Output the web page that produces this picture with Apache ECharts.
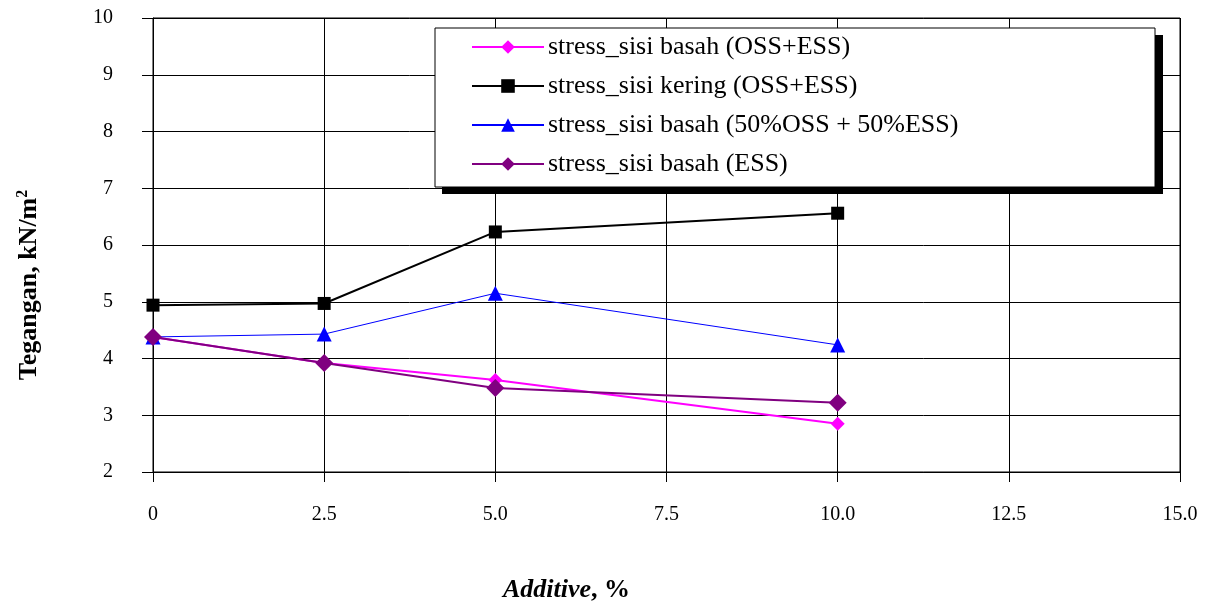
<!DOCTYPE html>
<html><head><meta charset="utf-8">
<script src="https://cdn.jsdelivr.net/npm/echarts@6/dist/echarts.min.js"></script>
<style>html,body{margin:0;padding:0;background:#fff;overflow:hidden}#c{width:1210px;height:605px}</style>
</head><body><div id="c"></div>
<script>
const xValues = [0, 2.5, 5, 10];
const basahOssEss = [4.38, 3.92, 3.62, 2.85];
const keringOssEss = [4.94, 4.97, 6.23, 6.56];
const basah5050 = [4.38, 4.43, 5.15, 4.24];
const basahEss = [4.38, 3.92, 3.48, 3.22];
const seriesNames = ['stress_sisi basah (OSS+ESS)', 'stress_sisi kering (OSS+ESS)', 'stress_sisi basah (50%OSS + 50%ESS)', 'stress_sisi basah (ESS)'];
const xTickLabels = {0:'0', 2.5:'2.5', 5:'5.0', 7.5:'7.5', 10:'10.0', 12.5:'12.5', 15:'15.0'};

const font = 'Liberation Serif';
const pair = arr => xValues.map((x, i) => [x, arr[i]]);
const chart = echarts.init(document.getElementById('c'), null, {renderer: 'canvas'});
chart.setOption({
  animation: false,
  backgroundColor: '#fff',
  textStyle: {fontFamily: font},
  grid: {left: 153, right: 30, top: 18, bottom: 133, show: true, borderColor: '#000', borderWidth: 1, outerBoundsMode: 'none', containLabel: false},
  xAxis: {
    type: 'value', min: 0, max: 15, interval: 2.5,
    axisLine: {show: true, onZero: false, lineStyle: {color: '#000', width: 1}},
    axisTick: {show: true, inside: false, length: 10, lineStyle: {color: '#000'}},
    axisLabel: {margin: 33, color: '#000', fontSize: 20, fontFamily: font, formatter: v => xTickLabels[v] ?? String(v)},
    splitLine: {show: true, lineStyle: {color: '#000', width: 1}},
    name: '{i|Additive}{b|, %}', nameLocation: 'middle', nameGap: 105,
    nameTextStyle: {padding: [0, 200, 0, 0], rich: {i: {fontStyle: 'italic', fontWeight: 'bold', fontSize: 26, fontFamily: font, color: '#000'}, b: {fontWeight: 'bold', fontSize: 26, fontFamily: font, color: '#000'}}}
  },
  yAxis: {
    type: 'value', min: 2, max: 10, interval: 1,
    axisLine: {show: true, onZero: false, lineStyle: {color: '#000', width: 1}},
    axisTick: {show: true, inside: false, length: 11, lineStyle: {color: '#000'}},
    axisLabel: {margin: 40, color: '#000', fontSize: 20, fontFamily: font},
    splitLine: {show: true, lineStyle: {color: '#000', width: 1}},
    name: '{b|Tegangan, kN/m}{s|2}', nameLocation: 'middle', nameGap: 110, nameRotate: 90,
    nameTextStyle: {padding: [0, 80, 0, 0], rich: {b: {fontWeight: 'bold', fontSize: 26, fontFamily: font, color: '#000'}, s: {fontWeight: 'bold', fontSize: 16, fontFamily: font, color: '#000', verticalAlign: 'top', padding: [0,0,12,0]}}}
  },
  graphic: [
    {type: 'rect', z: 1, shape: {x: 442, y: 35, width: 721, height: 159}, style: {fill: '#000'}},
    {type: 'rect', z: 1, shape: {x: 435, y: 28, width: 720, height: 159}, style: {fill: '#fff', stroke: '#000', lineWidth: 1}}
  ],
  legend: {
    orient: 'vertical', left: 466, top: 29, z: 5,
    itemWidth: 72, itemHeight: 17, itemGap: 13,
    textStyle: {fontFamily: font, fontSize: 26, color: '#000', padding: [0,0,0,-1]},
    data: seriesNames
  },
  series: [
    {name: seriesNames[0], type: 'line', data: pair(basahOssEss), color: '#FF00FF', symbol: 'diamond', symbolSize: 14, lineStyle: {width: 2}, z: 3},
    {name: seriesNames[1], type: 'line', data: pair(keringOssEss), color: '#000000', symbol: 'rect', symbolSize: 13, lineStyle: {width: 2}, z: 3},
    {name: seriesNames[2], type: 'line', data: pair(basah5050), color: '#0000FF', symbol: 'triangle', symbolSize: 15, lineStyle: {width: 1}, z: 3},
    {name: seriesNames[3], type: 'line', data: pair(basahEss), color: '#800080', symbol: 'diamond', symbolSize: 18, lineStyle: {width: 2}, z: 4}
  ]
});
</script></body></html>
